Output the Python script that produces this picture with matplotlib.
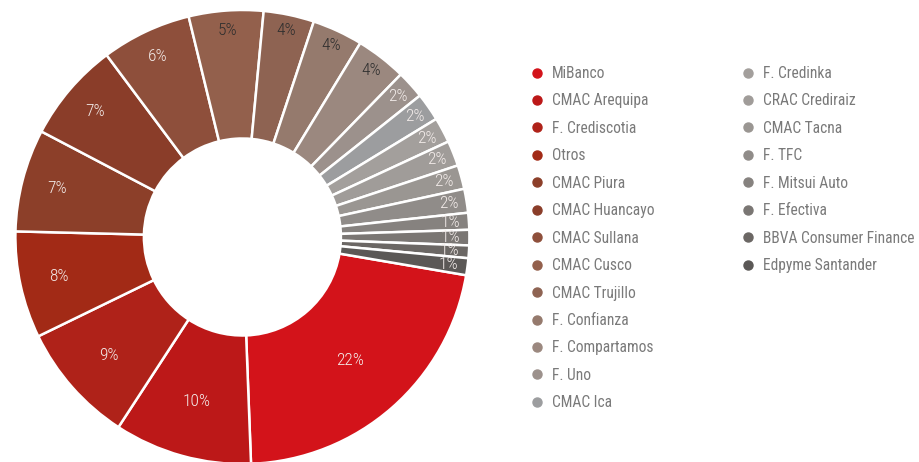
import matplotlib
matplotlib.use("Agg")
import matplotlib.pyplot as plt
from matplotlib.lines import Line2D
import numpy as np

plt.rcParams['font.family'] = ['Roboto Condensed', 'DejaVu Sans']

categories = ["MiBanco", "CMAC Arequipa", "F. Crediscotia", "Otros", "CMAC Piura",
              "CMAC Huancayo", "CMAC Sullana", "CMAC Cusco", "CMAC Trujillo",
              "F. Confianza", "F. Compartamos", "F. Uno", "CMAC Ica", "F. Credinka",
              "CRAC Crediraiz", "CMAC Tacna", "F. TFC", "F. Mitsui Auto", "F. Efectiva",
              "BBVA Consumer Finance", "Edpyme Santander"]
shares = [21.7, 9.8, 8.6, 7.6, 7.3, 7.1, 6.4, 5.3, 3.6, 3.6, 3.6,
          2.0, 2.0, 1.8, 1.8, 1.7, 1.7, 1.2, 1.1, 0.9, 1.2]
colors = ["#D3131A", "#BC1818", "#AF2219", "#A22A16", "#8C3F29", "#8A3D29",
          "#8E4F3B", "#93604C", "#8E6352", "#957A6D", "#9B887F", "#9C918C",
          "#9C9D9F", "#A39F9C", "#A09C99", "#9A9692", "#908C89", "#86827F",
          "#7A7673", "#6B6764", "#5B5856"]
dark_label = {"CMAC Cusco", "CMAC Trujillo", "F. Confianza", "F. Compartamos"}

fig = plt.figure(figsize=(9.2, 4.62), dpi=100)
R_px = 227.0
cx, cy = 242.4, 237.0
W, H = 920.0, 462.0
ax = fig.add_axes([(cx - R_px) / W, (H - cy - R_px) / H, 2 * R_px / W, 2 * R_px / H])

inner = 98.5 / R_px
wedges, _ = ax.pie(shares, colors=colors, startangle=-9.7, counterclock=False,
                   radius=1.0, wedgeprops=dict(width=1 - inner, edgecolor='white', linewidth=1.8))
ax.set_xlim(-1, 1)
ax.set_ylim(-1, 1)
ax.set_aspect('auto')
ax.axis('off')

total = sum(shares)
for w, name, v in zip(wedges, categories, shares):
    ang = np.deg2rad((w.theta1 + w.theta2) / 2)
    pct = 100 * v / total
    rl = np.interp(pct, [1, 2, 4, 5, 6, 7.2, 7.5, 9, 10, 22],
                   [0.915, 0.925, 0.93, 0.92, 0.895, 0.85, 0.83, 0.77, 0.745, 0.72])
    col = '#2E2E2E' if name in dark_label else '#F3ECEA'
    ax.text(rl * np.cos(ang), rl * np.sin(ang), f"{round(pct)}%", ha='center', va='center',
            fontsize=12.5, color=col, fontweight=300)

handles = [Line2D([], [], marker='o', linestyle='', markersize=6.5,
                  markerfacecolor=c, markeredgecolor=c) for c in colors]
leg_kw = dict(frameon=False, fontsize=11.2, labelcolor='#7A7A7A', handletextpad=0.5,
              labelspacing=0.80, handlelength=1.0, borderpad=0, borderaxespad=0)
leg1 = fig.legend(handles[:13], categories[:13], loc='upper left',
                  bbox_to_anchor=(529 / W, 1 - 66 / H), **leg_kw)
leg2 = fig.legend(handles[13:], categories[13:], loc='upper left',
                  bbox_to_anchor=(740 / W, 1 - 66 / H), **leg_kw)

fig.savefig("out.png", dpi=100)
